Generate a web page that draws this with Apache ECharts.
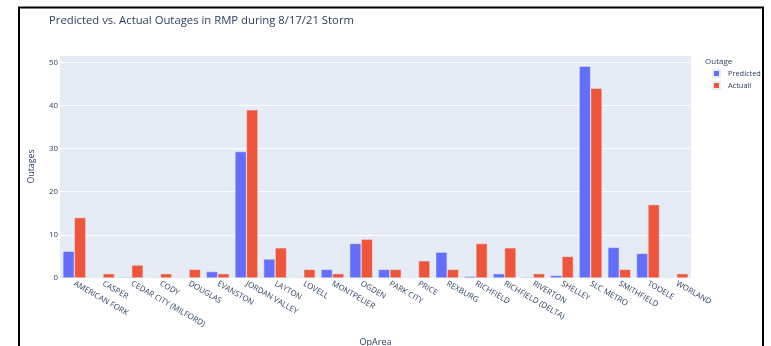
<!DOCTYPE html>
<html>
<head>
<meta charset="utf-8">
<script src="https://cdn.jsdelivr.net/npm/echarts@6/dist/echarts.min.js"></script>
<style>
  html, body { margin: 0; padding: 0; background: #fff; }
  #chart { width: 771px; height: 346px; }
</style>
</head>
<body>
<div id="chart"></div>
<script>
const opAreas = ['AMERICAN FORK', 'CASPER', 'CEDAR CITY (MILFORD)', 'CODY', 'DOUGLAS', 'EVANSTON',
  'JORDAN VALLEY', 'LAYTON', 'LOVELL', 'MONTPELIER', 'OGDEN', 'PARK CITY', 'PRICE', 'REXBURG',
  'RICHFIELD', 'RICHFIELD (DELTA)', 'RIVERTON', 'SHELLEY', 'SLC METRO', 'SMITHFIELD', 'TOOELE', 'WORLAND']
const predicted = [6.2, 0, 0.2, 0, 0, 1.5, 29.3, 4.4, 0, 2, 8, 2, 0.1, 6, 0.4, 1, 0.2, 0.6, 49.1, 7.1, 5.7, 0]
const actual = [14, 1, 3, 1, 2, 1, 39, 7, 2, 1, 9, 2, 4, 2, 8, 7, 1, 5, 44, 2, 17, 1]
const yTicks = [0, 10, 20, 30, 40, 50]

const textColor = '#2a3f5f'
const fontFamily = '"Open Sans", "Noto Sans", sans-serif'

const chart = echarts.init(document.getElementById('chart'))
const option = {
  animation: false,
  textStyle: { fontFamily: fontFamily, color: textColor },
  title: {
    text: 'Predicted vs. Actual Outages in RMP during 8/17/21 Storm',
    left: 49,
    top: 15.5,
    padding: 0,
    textStyle: { fontSize: 11.3, fontWeight: 'normal', color: textColor, fontFamily: fontFamily }
  },
  graphic: [
    {
      type: 'polyline',
      shape: { points: [[19, 346], [19, 7.5], [763, 7.5], [763, 346]] },
      style: { stroke: '#000', lineWidth: 2, fill: null },
      silent: true
    },
    {
      type: 'text',
      left: 705,
      top: 57.5,
      style: { text: 'Outage', fontSize: 8, fill: textColor, fontFamily: fontFamily }
    }
  ],
  legend: {
    orient: 'vertical',
    left: 712,
    top: 69,
    padding: 0,
    itemWidth: 7,
    itemHeight: 7,
    itemGap: 3,
    icon: 'rect',
    textStyle: { fontSize: 7.4, color: textColor, fontFamily: fontFamily, padding: [0, 0, 0, 3] },
    data: ['Predicted', 'Actuall']
  },
  grid: {
    left: 60,
    right: 80,
    top: 55,
    bottom: 68,
    show: true,
    backgroundColor: '#E5ECF6',
    borderWidth: 0,
    containLabel: false,
    outerBoundsMode: 'none'
  },
  xAxis: {
    type: 'category',
    data: opAreas,
    name: 'OpArea',
    nameLocation: 'middle',
    nameGap: 60,
    nameTextStyle: { fontSize: 9, color: textColor },
    axisLine: { show: false },
    axisTick: { show: false },
    axisLabel: {
      interval: 0,
      rotate: -30,
      fontSize: 7.9,
      color: textColor,
      margin: 5
    }
  },
  yAxis: {
    type: 'value',
    min: 0,
    max: 51.7,
    interval: 10,
    name: 'Outages',
    nameLocation: 'middle',
    nameGap: 24,
    nameTextStyle: { fontSize: 8.8, color: textColor },
    axisLine: { show: false },
    axisTick: { show: false },
    axisLabel: {
      fontSize: 7.8,
      color: textColor,
      margin: 2,
      formatter: v => (yTicks.indexOf(v) >= 0 ? String(v) : '')
    },
    splitLine: { lineStyle: { color: '#ffffff', width: 1 } }
  },
  series: [
    {
      name: 'Predicted',
      type: 'bar',
      data: predicted,
      barGap: '0%',
      barCategoryGap: '20%',
      itemStyle: { color: '#636efa', borderColor: '#E5ECF6', borderWidth: 0.5 }
    },
    {
      name: 'Actuall',
      type: 'bar',
      data: actual,
      itemStyle: { color: '#EF553B', borderColor: '#E5ECF6', borderWidth: 0.5 }
    }
  ]
}
chart.setOption(option)
</script>
</body>
</html>
